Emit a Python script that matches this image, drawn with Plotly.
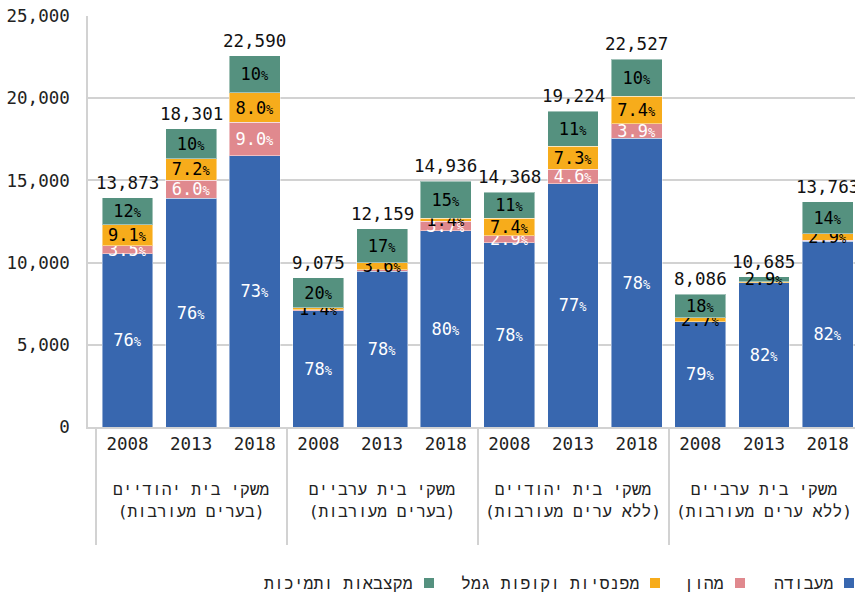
import plotly.graph_objects as go

# ---- data ----
groups = [
    "משקי בית יהודיים<br>(בערים מעורבות)",
    "משקי בית ערביים<br>(בערים מעורבות)",
    "משקי בית יהודיים<br>(ללא ערים מעורבות)",
    "משקי בית ערביים<br>(ללא ערים מעורבות)",
]
years = ["2008", "2013", "2018"]

totals = [13873, 18301, 22590,
          9075, 12159, 14936,
          14368, 19224, 22527,
          8086, 10685, 13763]

# shares (%) of each income source
share_work = [76, 76, 73, 78, 78, 80, 78, 77, 78, 79, 82, 82]
share_capital = [3.5, 6.0, 9.0, 0.6, 0.6, 3.7, 2.9, 4.6, 3.9, 0.3, 0.2, 0.6]
share_pension = [9.1, 7.2, 8.0, 1.4, 3.6, 1.4, 7.4, 7.3, 7.4, 2.7, 0.5, 2.9]
share_allow = [12, 10, 10, 20, 17, 15, 11, 11, 10, 18, 2.9, 14]

series_names = ["מעבודה", "מהון", "מפנסיות וקופות גמל", "מקצבאות ותמיכות"]
series_shares = [share_work, share_capital, share_pension, share_allow]
series_colors = ["#3867AF", "#E0898E", "#F7AC1B", "#55917F"]
text_colors = ["white", "white", "black", "black"]

# ---- build ----
HEB = "font-size:16.3px"
x_group = [" <br><span style='%s'>" % HEB + g.replace("<br>", "</span><br><span style='%s'>" % HEB)
           + "</span><br> " for g in groups for _ in years]
x_year = [y for _ in groups for y in years]


def fmt(p):
    if p < 1:
        return ""
    s = f"{p:.0f}" if p >= 10 else f"{p:.1f}"
    return s + "<span style='font-size:12px'>%</span>"


FONT = "DejaVu Sans Mono, Liberation Mono, monospace"
fig = go.Figure()
stack_top = [0.0] * len(totals)
for name, shares, col, tcol in zip(series_names, series_shares, series_colors, text_colors):
    vals = [t * s / 100 for t, s in zip(totals, shares)]
    stack_top = [a + b for a, b in zip(stack_top, vals)]
    fig.add_trace(go.Bar(
        x=[x_group, x_year], y=vals, name=name,
        marker=dict(color=col, line=dict(color="rgba(255,255,255,0.45)", width=1)),
        text=[fmt(s) for s in shares], textposition="inside",
        insidetextanchor="middle",
        textfont=dict(color=tcol, size=17, family=FONT),
        showlegend=False, hoverinfo="skip",
    ))

# totals above the stacks
for i, (t, top) in enumerate(zip(totals, stack_top)):
    fig.add_annotation(x=i, y=top, xref="x", yref="y", text=f"{t:,}",
                       showarrow=False, yanchor="bottom", yshift=3,
                       font=dict(size=17.5, color="#111", family=FONT))

fig.update_layout(
    barmode="stack", bargap=0.2,
    width=855, height=593,
    margin=dict(l=88, r=0, t=16, b=166, autoexpand=False),
    plot_bgcolor="white", paper_bgcolor="white",
    font=dict(family=FONT, size=17.5, color="#222"),
    uniformtext=dict(minsize=17, mode="show"),
)
fig.update_yaxes(
    range=[0, 25000], tickvals=[0, 5000, 10000, 15000, 20000, 25000],
    tickformat=",", showgrid=True, gridcolor="#d2d2d2", gridwidth=1.5,
    zeroline=False, showline=True, linecolor="#d2d2d2", linewidth=1.5,
    ticks="", ticklabelstandoff=13, tickfont=dict(size=17.5, color="#222"),
    automargin=False,
)
fig.update_xaxes(
    type="multicategory", range=[-0.62, 11.43], tickangle=0,
    showline=True, linecolor="#d2d2d2", linewidth=1.5,
    showdividers=True, dividercolor="#d2d2d2", dividerwidth=2,
    tickfont=dict(size=17.5, color="#222"), automargin=False,
)

# custom right-to-left legend (symbol on the right of text)
px_w = 767.0
def px2paper(px):
    return (px - 88) / px_w

legend_items = [
    (series_names[0], series_colors[0], 844),
    (series_names[1], series_colors[1], 735),
    (series_names[2], series_colors[2], 650),
    (series_names[3], series_colors[3], 424),
]
ly = (427 - 583) / 411.0
for name, col, sqx in legend_items:
    fig.add_shape(type="rect", xref="paper", yref="paper",
                  x0=px2paper(sqx), x1=px2paper(sqx + 10),
                  y0=ly - 5 / 411, y1=ly + 5 / 411,
                  fillcolor=col, line=dict(width=0))
    fig.add_annotation(xref="paper", yref="paper", x=px2paper(sqx - 9), y=ly,
                       text=name, showarrow=False, xanchor="right", yanchor="middle",
                       font=dict(size=16.5, color="#222", family=FONT))

fig.write_html("out.html", config={"displayModeBar": False},
               post_script="document.body.style.margin='0';")
